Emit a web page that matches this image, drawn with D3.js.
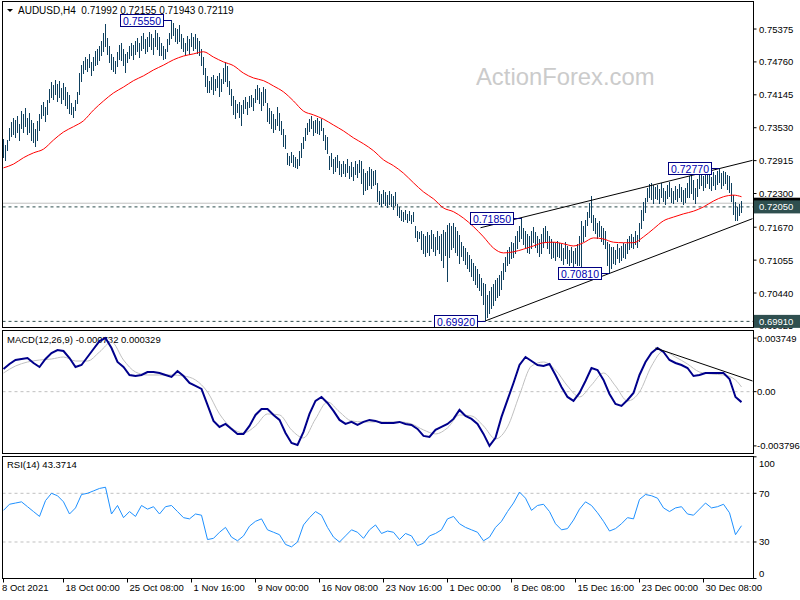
<!DOCTYPE html>
<html><head><meta charset="utf-8">
<script src="https://cdn.jsdelivr.net/npm/d3@7"></script>
<style>body{margin:0;background:#fff}svg{display:block;font-family:"Liberation Sans",Arial,sans-serif}</style>
</head><body><svg id="c" width="800" height="600"></svg>
<script>
// ---------------- DATA ----------------
const symbol = "AUDUSD,H4";
const lastOHLC = ["0.71992", "0.72155", "0.71943", "0.72119"];
// H4 bars, prices in pips (price x 10000)
const high = [
 7332,7321,7330,7353,7364, 7372,7367,7375,7360,
 7385,7378,7390,7372,7380,7368,7362,7350,7365,7378, 7395,7402,7392,7405,
 7425,7438,7432,7442,7435,7440,7428,7436,7430,7420,7415, 7400,7392,7405, 7420,7455,7470,
 7478,7486,7482,7490,7475,7485,7496,7500,7505, 7515,7530,7547,
 7520,7505,7490,7485,7478,7495,7508, 7512,7500,7490,
 7495,7505,7512,7508,7515,7520,7512,7525,7530,7518,7522,7532,7528,7520,7535,7530,7522,
 7512,7505,7500,7518,7530, 7555,7548,7540,7538,7545,
 7528,7520,7512,7525,7518,7530,7522,7528,7520,7515, 7500,7485,7465,7450,
 7440,7448,7452,7445,7450,7455,7445, 7465,7475,7468,
 7440,7425,7412,7405,7398,7402,7395, 7405,7410,7402,7412,7415,7408,
 7425,7432,7428,7420,7430,7426, 7400,7390,7385,7378,7370,7392,7380,7365, 7350,7340,
 7305,7300,7308,7302,7298,7295, 7310,7325,7335,7352, 7362,7370,7374,7365, 7368,7372,7365,7370,
 7352,7340,7335, 7300,7305,7295,7298,7302,7290,7285,
 7290,7285,7295,7282,7288,7280,7290,7285,7292, 7290,7275,7268,7272,7280,7275,7272,7274,
 7250,7235,7230,7236,7232,7228,7234,7230,7226,7232, 7210,7205,7200,7195,7200,7192,7198,7190,7195,
 7170,7160,7158, 7160,7155,7150,7158,7152,7162,7155,7148,7160,7150,7155,7162,7158,
 7172,7175,7170,7174,7168,7160,7152, 7140,7132,7128,7120,7115,7108,7100,7095,7088,7080,7072,
 7062,7060,7040, 7048,7055,7060,7068,7072,7078,7085, 7100,7112,7125,7130,7140,7138,7150,7160,
 7170,7185,7165,7160,7155,7150,7160,7168,7158,7150,7145,7155,7165,7170,7160,7150,7145,7140,7138,7142,
 7138,7135,7128,7140,7132,7125,7130,7122,7128,7135,7150,7178, 7170,7180,7195,7212,7225,
 7190,7185,7175,7178,7170,7165,7160, 7140,7135,7130, 7130,7125,7135,7128,7132,7138,7135,
 7145,7150,7155,7148,7160,7152, 7175,7200,7215,7222, 7240,7248,7250,7245,7243,
 7245,7238,7250,7240,7235,7246,7252,7240,7235,7244,7238,7248,7242,7236,7240,7250,
 7262,7268,7255,7240,7258, 7265,7270,7262,7268,7272,7266,7260,7270,7264,7272,7277,7268,7272,7270,7265,
 7262,7250,7228,7215, 7205,7210,7215.5
];
const low = [
 7298,7291,7311,7330,7336, 7340,7335,7345,7330,
 7352,7345,7356,7340,7345,7330,7325,7318,7330,7348, 7370,7375,7365,7378,
 7400,7410,7405,7415,7402,7410,7398,7405,7395,7388,7380, 7378,7372,7385, 7398,7415,7440,
 7455,7462,7458,7465,7450,7460,7470,7472,7478, 7488,7495,7505,
 7490,7475,7462,7458,7455,7468,7480, 7478,7470,7457,
 7475,7482,7488,7480,7490,7495,7485,7498,7502,7492,7495,7505,7500,7490,7505,7500,7488,
 7488,7480,7482,7495,7508, 7520,7525,7515,7510,7515,
 7502,7495,7488,7498,7490,7505,7498,7502,7492,7488, 7470,7452,7430,7418,
 7418,7425,7415,7422,7428,7412,7420, 7435,7440,7430,
 7415,7395,7378,7370,7382,7372,7358, 7380,7388,7378,7390,7392,7385,
 7400,7405,7398,7385,7395,7400, 7365,7360,7352,7345,7350,7358,7348,7340, 7318,7315,
 7285,7282,7288,7280,7278,7276, 7282,7298,7315,7330, 7340,7346,7352,7338, 7345,7342,7340,7348,
 7330,7312,7305, 7275,7280,7268,7272,7278,7265,7262,
 7268,7262,7270,7258,7262,7255,7265,7260,7270, 7248,7228,7235,7238,7245,7240,7245,7246,
 7215,7210,7205,7212,7208,7204,7210,7206,7200,7208, 7188,7185,7180,7178,7182,7176,7180,7174,7178,
 7148,7140,7145, 7125,7118,7112,7120,7115,7128,7122,7115,7125,7118,7105,7092,7115,
 7065,7110,7125,7130,7120,7115,7100, 7112,7105,7098,7090,7085,7075,7068,7060,7055,7048,7040,
 7022,6992,6998, 7005,7015,7020,7030,7035,7040,7050, 7070,7085,7095,7100,7108,7110,7118,7128,
 7140,7145,7135,7130,7120,7118,7128,7138,7130,7120,7112,7118,7130,7140,7128,7118,7108,7110,7105,7112,
 7110,7105,7098,7108,7100,7095,7102,7092,7100,7095,7095,7092, 7140,7150,7170,7185,7175,
 7160,7155,7145,7150,7140,7135,7128, 7095,7081,7090, 7100,7098,7108,7102,7105,7110,7108,
 7118,7125,7130,7128,7135,7130, 7140,7165,7180,7195, 7215,7222,7218,7212,7220,
 7218,7212,7222,7215,7210,7220,7225,7214,7212,7218,7215,7222,7215,7210,7214,7222,
 7222,7230,7218,7212,7225, 7240,7245,7235,7242,7248,7240,7235,7245,7238,7246,7250,7240,7245,7248,7238,
 7232,7215,7190,7180, 7180,7188,7194.3
];
// moving average (pips), one value every maStep bars
const maStep = 5;
const ma = [
 7278,7285,7297,7306,7313,7330,7345,7355,7366,7386,
 7403,7418,7429,7441,7450,7461,7470,7480,7487,7491,
 7495,7485,7476,7469,7455,7446,7441,7431,7420,7403,
 7384,7377,7369,7358,7347,7334,7323,7310,7293,7282,
 7268,7250,7233,7220,7203,7196,7184,7168,7149,7128,
 7119,7121,7126,7132,7138,7139,7136,7132,7138,7147,
 7145,7139,7138,7138,7149,7164,7179,7186,7192,7197,
 7205,7216,7224,7227,7224
];
// MACD main (x 1e-6), one value every macdStep bars
const macdStep = 3;
const macdMain = [
 1587,1936,2216,2286,2356,2006,1727,2286,2705,2915,
 2845,2356,1727,1866,2426,2985,3544,3749,3055,2076,
 1727,1167,1097,1167,1377,1377,1307,1167,1028,1447,
 1097,608,398,189,-930,-2048,-2467,-2258,-2607,-2957,
 -2957,-2398,-1629,-1209,-1209,-1629,-1978,-2887,-3586,-3726,
 -2817,-1559,-650,-370,-790,-1349,-1978,-2258,-2118,-2328,
 -2118,-1978,-2048,-2188,-2188,-2188,-2118,-2258,-2328,-2607,
 -3097,-3167,-2677,-2467,-2258,-1908,-1279,-1699,-1908,-2258,
 -2957,-3796,-3236,-1768,-580,608,1866,2426,2146,1866,
 1796,1936,1167,329,-370,-650,-91,748,1657,1517,
 818,-161,-860,-1000,-580,-91,1167,2076,2705,3055,
 2775,2216,2006,1866,1657,1097,1167,1307,1307,1307,
 1307,888,-370,-732
];
// MACD signal (x 1e-6), one value every signalStep bars
const signalStep = 6;
const macdSignal = [
 1307,1796,2076,2216,2286,2426,2146,2146,2775,3474,
 2216,1377,1167,1167,1167,1097,818,-21,-1559,-2537,
 -2887,-2398,-1559,-1629,-2677,-3236,-1908,-720,-1419,-2048,
 -2118,-2118,-2118,-2118,-2258,-2677,-2957,-2537,-1629,-1699,
 -2398,-3306,-2467,-231,1796,2076,1517,398,-370,468,
 1307,398,-650,-21,1796,2845,2426,1936,1377,1237,
 1167,818,329
];
// RSI(14), one value every rsiStep bars
const rsiStep = 3;
const rsi = [
 56,61,62,63,59,55,51,64,70,68,
 63,53,58,69,70,72,74,75,53,60,
 50,55,51,60,57,59,53,59,60,55,
 50,49,53,52,32,33,38,42,34,31,
 35,43,47,49,40,38,36,28,26,30,
 44,50,55,52,42,34,30,35,40,38,
 33,40,44,37,39,38,32,37,35,27,
 29,35,37,40,49,51,45,42,40,38,
 31,34,42,47,55,62,71,66,56,60,
 61,55,45,40,41,48,57,63,60,54,
 47,39,41,45,50,49,65,69,68,66,
 58,55,58,59,53,52,57,62,58,59,
 61,54,36,43.37
];
const priceTicks = ["0.75375","0.74760","0.74145","0.73530","0.72915","0.72300","0.71670","0.71055","0.70440","0.69825"];
const macdTicks = [["0.003749",3749],["0.00",0],["-0.003796",-3796]];
const rsiTicks = ["100","70","30","0"];
const rsiLevels = [70, 30];
const dateLabels = ["8 Oct 2021","18 Oct 00:00","25 Oct 08:00","1 Nov 16:00","9 Nov 00:00","16 Nov 08:00","23 Nov 16:00","1 Dec 00:00","8 Dec 08:00","15 Dec 16:00","23 Dec 00:00","30 Dec 08:00"];
const dateBars = [0,30,62,94,126,158,190,222,254,286,318,350];
const annotations = [
 {bar:84, price:0.75550, text:"0.75550"},
 {bar:259, price:0.71850, text:"0.71850"},
 {bar:241, price:0.69920, text:"0.69920"},
 {bar:303, price:0.70810, text:"0.70810"},
 {bar:358, price:0.72770, text:"0.72770"}
];
const hLevels = [["0.72050",0.72050],["0.69910",0.69910]];
const bidPrice = 0.72119;
const channelUpper = [[238.5,0.7166],[374.5,0.7292]];
const channelLower = [[241,0.6992],[374.5,0.7183]];
const macdTrend = [[326,3055],[374.5,748]];

// ---------------- DRAW ----------------
const svg = d3.select("#c");
const n = high.length;
const L = 2.5, R = 753.5;
const P = {main:[1.5,327.5], macd:[330.5,453.5], rsi:[456.5,578.5]};
const x = d3.scaleLinear().domain([0, n-1]).range([3.5, 741.5]);
const yP = d3.scaleLinear().domain([0.69805, 0.75880]).range([327, 2]);
const yM = d3.scaleLinear().domain([-3796, 3749]).range([445.9, 338.1]);
const yR = d3.scaleLinear().domain([0, 100]).range([578.5, 456.8]);
const sx = (step) => (d, k) => x(Math.min(k*step, n-1));

const defs = svg.append("defs");
Object.entries(P).forEach(([k,[a,b]]) => {
  defs.append("clipPath").attr("id","clip-"+k).append("rect")
    .attr("x",L).attr("y",a).attr("width",R-L).attr("height",b-a);
});
const font = 9.5;

// main panel
const gm = svg.append("g").attr("clip-path","url(#clip-main)");
gm.append("text").attr("x",476).attr("y",85).attr("font-size",23.8).attr("fill","#cbcbcb").text("ActionForex.com");
gm.append("path").attr("d","M7,9L13,9L10,12Z").attr("fill","#000");
gm.append("text").attr("x",18).attr("y",14).attr("font-size",10).attr("fill","#000")
  .attr("xml:space","preserve").text(symbol + "  " + lastOHLC.join(" "));
hLevels.forEach(([t,v]) => gm.append("line").attr("x1",L).attr("x2",R).attr("y1",yP(v)).attr("y2",yP(v))
  .attr("stroke","#2f4f4f").attr("stroke-dasharray","3,3"));
gm.append("line").attr("x1",L).attr("x2",R).attr("y1",yP(bidPrice)).attr("y2",yP(bidPrice)).attr("stroke","#c0c0c0");
gm.append("g").selectAll("line").data(d3.range(n)).join("line")
  .attr("x1",i=>x(i)).attr("x2",i=>x(i))
  .attr("y1",i=>yP(high[i]/1e4)).attr("y2",i=>yP(low[i]/1e4)+0.5)
  .attr("stroke","#0f405e").attr("stroke-width",1).attr("shape-rendering","crispEdges");
gm.append("path").datum(ma).attr("fill","none").attr("stroke","#ff0000").attr("stroke-width",1)
  .attr("d", d3.line().x(sx(maStep)).y(d=>yP(d/1e4)).curve(d3.curveMonotoneX));
const lineP = d3.line().x(d=>x(d[0])).y(d=>yP(d[1]));
[channelUpper, channelLower].forEach(c => gm.append("path").datum(c).attr("d",lineP).attr("stroke","#000").attr("fill","none"));
annotations.forEach(a => {
  const bx = x(a.bar), by = Math.round(yP(a.price)) + 0.5;
  const w = 43, h = 12, rx = Math.round(bx - 9) + 0.5;
  gm.append("line").attr("x1",rx).attr("x2",bx).attr("y1",by).attr("y2",by).attr("stroke","#000080");
  gm.append("rect").attr("x",rx-w).attr("y",by-h/2).attr("width",w).attr("height",h)
    .attr("fill","#fff").attr("stroke","#000080");
  gm.append("text").attr("x",rx-w/2).attr("y",by+4).attr("text-anchor","middle")
    .attr("font-size",10.5).attr("fill","#0000b0").text(a.text);
});

// price axis
priceTicks.forEach(t => {
  const y = yP(+t);
  svg.append("line").attr("x1",R).attr("x2",R+3).attr("y1",y).attr("y2",y).attr("stroke","#000");
  svg.append("text").attr("x",759).attr("y",y+3.5).attr("font-size",font).text(t);
});
{
  const y = yP(bidPrice);
  svg.append("rect").attr("x",R+0.5).attr("y",y-5.5).attr("width",46).attr("height",12).attr("fill","#000");
}
hLevels.forEach(([t,v]) => {
  const y = yP(v);
  svg.append("rect").attr("x",R+0.5).attr("y",y-6.5).attr("width",46).attr("height",13).attr("fill","#2f4f4f");
  svg.append("text").attr("x",759).attr("y",y+3.5).attr("font-size",font).attr("fill","#fff").text(t);
});

// MACD panel
const gd = svg.append("g").attr("clip-path","url(#clip-macd)");
gd.append("text").attr("x",7).attr("y",343).attr("font-size",font).text("MACD(12,26,9) -0.000732 0.000329");
gd.append("line").attr("x1",L).attr("x2",R).attr("y1",yM(0)).attr("y2",yM(0)).attr("stroke","#c0c0c0").attr("stroke-dasharray","3,3");
gd.append("path").datum(macdSignal).attr("fill","none").attr("stroke","#c0c0c0").attr("stroke-width",1)
  .attr("d", d3.line().x(sx(signalStep)).y(d=>yM(d)).curve(d3.curveMonotoneX));
gd.append("path").datum(macdMain).attr("fill","none").attr("stroke","#00008b").attr("stroke-width",2)
  .attr("d", d3.line().x(sx(macdStep)).y(d=>yM(d)));
gd.append("path").datum(macdTrend).attr("fill","none").attr("stroke","#000")
  .attr("d", d3.line().x(d=>x(d[0])).y(d=>yM(d[1])));
macdTicks.forEach(([t,v]) => {
  const y = yM(v);
  svg.append("line").attr("x1",R).attr("x2",R+3).attr("y1",y).attr("y2",y).attr("stroke","#000");
  svg.append("text").attr("x",757).attr("y",y+3.5).attr("font-size",font).text(t);
});

// RSI panel
const gr = svg.append("g").attr("clip-path","url(#clip-rsi)");
gr.append("text").attr("x",7).attr("y",468).attr("font-size",font).text("RSI(14) 43.3714");
rsiLevels.forEach(v => gr.append("line").attr("x1",L).attr("x2",R).attr("y1",yR(v)).attr("y2",yR(v))
  .attr("stroke","#c0c0c0").attr("stroke-dasharray","3,3"));
gr.append("path").datum(rsi).attr("fill","none").attr("stroke","#1e90ff").attr("stroke-width",1)
  .attr("d", d3.line().x(sx(rsiStep)).y(d=>yR(d)));
rsiTicks.forEach(t => {
  const y = Math.max(463, Math.min(573, yR(+t)));
  svg.append("line").attr("x1",R).attr("x2",R+3).attr("y1",yR(+t)).attr("y2",yR(+t)).attr("stroke","#000");
  svg.append("text").attr("x",759).attr("y",y+3.5).attr("font-size",font).text(t);
});

// date axis
dateLabels.forEach((t,k) => {
  const xx = x(dateBars[k]);
  svg.append("line").attr("x1",xx).attr("x2",xx).attr("y1",P.rsi[1]).attr("y2",P.rsi[1]+4).attr("stroke","#000");
  svg.append("text").attr("x", k === 0 ? 2 : xx + 2).attr("y",591).attr("font-size",font).text(t);
});

// panel frames
Object.values(P).forEach(([a,b]) => svg.append("rect").attr("x",L).attr("y",a).attr("width",R-L).attr("height",b-a)
  .attr("fill","none").attr("stroke","#000"));
</script></body></html>
